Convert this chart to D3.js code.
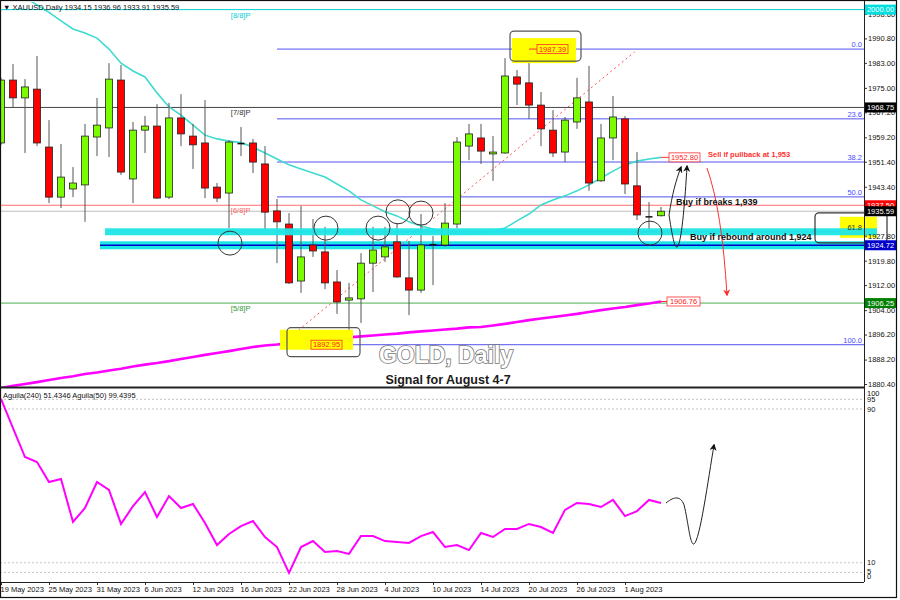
<!DOCTYPE html>
<html><head><meta charset="utf-8">
<script src="https://d3js.org/d3.v7.min.js"></script>
<style>
html,body{margin:0;padding:0;background:#fff;}
svg{display:block;}
text{font-family:"Liberation Sans",Arial,sans-serif;}
</style></head>
<body><svg id="chart" width="900" height="600"></svg>
<script>
// ---------------- DATA ----------------
const symbol = "XAUUSD,Daily";
const open  = [1957.4,1977.5,1971.8,1974.6,1956.1,1940.1,1942.7,1944.0,1959.3,1962.2,1977.5,1945.9,1961.5,1962.8,1940.1,1965.4,1959.6,1957.4,1943.3,1941.4,1957.4,1957.4,1950.7,1935.7,1931.5,1913.3,1924.8,1922.6,1913.0,1907.2,1907.6,1919.0,1921.0,1925.8,1914.3,1910.4,1924.8,1924.8,1931.5,1956.4,1959.0,1953.9,1954.2,1978.5,1976.6,1969.5,1961.5,1954.5,1964.1,1970.5,1945.3,1959.0,1965.1,1943.7,1934.0,1934.15];
const high  = [1978.2,1982.6,1977.8,1985.2,1964.7,1957.1,1949.7,1963.5,1971.8,1982.9,1982.3,1964.1,1966.0,1969.8,1970.2,1973.0,1963.5,1971.1,1944.6,1958.3,1962.5,1958.7,1956.4,1939.5,1935.0,1937.3,1933.1,1930.6,1916.8,1912.7,1922.2,1930.6,1930.6,1931.8,1926.1,1934.7,1927.7,1938.2,1959.3,1963.5,1963.5,1959.6,1984.5,1980.7,1987.39,1973.7,1967.9,1965.7,1978.2,1982.0,1963.5,1972.4,1966.0,1954.5,1938.5,1936.96];
const low   = [1956.8,1968.9,1954.2,1956.4,1938.2,1936.6,1940.1,1932.2,1953.2,1952.9,1947.2,1938.2,1954.2,1939.5,1939.5,1956.4,1949.1,1939.8,1938.5,1930.2,1953.2,1947.8,1929.6,1919.0,1912.4,1909.5,1921.0,1910.7,1902.8,1892.95,1899.9,1909.8,1919.4,1914.3,1902.4,1909.5,1912.0,1924.2,1930.2,1951.9,1950.7,1945.3,1954.0,1969.5,1965.1,1956.4,1952.9,1951.3,1961.9,1942.1,1945.0,1951.9,1941.1,1932.8,1929.0,1933.91];
const close = [1977.5,1971.8,1975.3,1957.4,1940.1,1946.5,1944.6,1959.6,1963.1,1977.8,1948.1,1961.5,1962.8,1939.8,1965.4,1960.3,1956.8,1943.0,1939.8,1957.7,1957.2,1951.3,1935.3,1932.2,1912.7,1921.0,1922.9,1912.7,1906.6,1907.9,1919.0,1923.2,1924.2,1914.6,1910.4,1924.8,1924.9,1931.8,1957.7,1960.3,1954.8,1954.5,1978.8,1976.2,1969.5,1961.9,1954.2,1964.7,1971.8,1944.6,1959.0,1965.7,1944.3,1934.4,1933.8,1935.59];
const ma21  = [2010.0,2006.5,2003.8,2001.5,1999.1,1996.4,1993.8,1992.5,1990.9,1987.4,1982.9,1980.4,1978.5,1973.4,1968.9,1966.3,1963.1,1959.9,1958.7,1958.0,1957.5,1956.1,1954.2,1952.3,1950.4,1949.1,1947.8,1946.5,1944.3,1942.1,1939.2,1937.3,1935.4,1934.1,1932.2,1930.9,1929.9,1928.6,1928.3,1928.3,1928.6,1929.3,1930.2,1932.5,1934.7,1937.6,1939.2,1940.5,1942.1,1944.0,1946.2,1948.4,1950.4,1951.6,1952.3,1952.8];
const ma200 = [1879.1,1879.8,1880.4,1881.0,1881.7,1882.3,1882.9,1883.6,1884.1,1884.7,1885.3,1886.0,1886.6,1887.1,1887.7,1888.4,1889.0,1889.7,1890.3,1890.9,1891.6,1892.2,1892.7,1893.0,1893.5,1893.8,1894.1,1894.5,1894.8,1895.3,1895.6,1895.9,1896.2,1896.5,1896.9,1897.2,1897.5,1897.8,1898.1,1898.5,1898.6,1899.1,1899.6,1900.2,1900.8,1901.3,1901.8,1902.3,1902.8,1903.4,1904.0,1904.5,1905.0,1905.6,1906.1,1906.76];
const aguila = [95.2,80.1,65.0,62.4,52.0,53.6,31.2,38.5,52.0,47.9,30.2,39.5,46.8,33.8,44.7,38.5,40.6,30.7,19.2,25.0,29.1,31.7,23.4,18.2,4.7,18.2,21.3,15.6,16.1,14.6,23.9,23.9,21.3,20.8,20.3,23.9,26.0,18.2,19.2,16.6,25.5,23.4,27.6,27.6,30.2,28.6,25.5,37.5,41.1,40.6,39.0,42.7,34.3,36.9,42.7,41.1];
const aguilaLegend = "Aguila(240) 51.4346  Aguila(50) 99.4395";

const tickIdx    = [0,4,8,12,16,20,24,28,32,36,40,44,48,52];
const tickLabels = ["19 May 2023","25 May 2023","31 May 2023","6 Jun 2023","12 Jun 2023","16 Jun 2023","22 Jun 2023","28 Jun 2023","4 Jul 2023","10 Jul 2023","14 Jul 2023","20 Jul 2023","26 Jul 2023","1 Aug 2023"];
const priceTicks = [1998.60,1990.80,1983.00,1975.00,1967.20,1959.20,1951.40,1943.40,1935.60,1927.80,1919.80,1912.00,1904.00,1896.20,1888.20,1880.40];
const subTicks   = [100,95,90,10,5,0];
const subLevels  = [95,90,10,5];

const fibHigh = 1987.39, fibLow = 1892.95, fibStartIdx = 23;
const fibLevels = [0,23.6,38.2,50,61.8,100];
const murreyLabels = ["[8/8]P","[7/8]P","[6/8]P","[5/8]P"];
const murreyPrices = [2000.00,1968.75,1937.50,1906.25];
const murreyColors = ["#00d0d0","#333333","#ff6666","#339933"];
const currentPrice = 1935.59;
const supportPrice = 1924.72;
const axisTagPrices = [2000.00,1968.75,1937.50,1935.59,1924.72,1906.25];
const axisTagColors = ["#00e0e0","#000000","#ff0000","#000000","#0000cc","#008000"];

const circleIdx   = [19.08,27.08,31.42,33.08,35.0,54.08];
const circlePrice = [1925.4,1930.2,1930.2,1935.4,1935.0,1928.6];
const trendFrom = [23.5,1893.5], trendTo = [52.8,1986.5];

const redArrow  = [[58.83,1949.4],[60.08,1936.0],[60.5,1908.8]];
const blackA    = [[55.67,1934.4],[55.92,1940.8],[56.25,1945.6],[56.67,1949.7]];
const blackB    = [[55.67,1934.4],[55.92,1928.0],[56.17,1922.6],[56.42,1924.5],[56.75,1927.0],[57.0,1939.2],[57.17,1950.0]];
const subArrow  = [[55.42,41.1],[55.92,43.7],[56.58,45.8],[56.92,40.1],[57.25,32.2],[57.42,18.7],[57.75,19.8],[58.25,21.8],[58.92,53.1],[59.42,71.3]];

const notes = [
  {t:"Sell if pullback at 1,953", i:58.92, p:1953, dy:0.5, c:"#ff3030", s:7.5},
  {t:"Buy if breaks 1,939", i:56.25, p:1939, dy:4.5, c:"#111", s:9},
  {t:"Buy if rebound around 1,924", i:57.42, p:1924, dy:-7.7, c:"#111", s:9}
];
const titleMain = "GOLD, Daily";
const titleSub  = "Signal for August 4-7";

// ---------------- LAYOUT ----------------
const W=900,H=600, plotR=864, mainTop=2, mainBot=387, subTop=389, subBot=582;
const x  = d3.scaleLinear().domain([0,55]).range([1,661]);
const y  = d3.scaleLinear().domain([1880.4,1998.6]).range([384,14]);
const yi = d3.scaleLinear().domain([0,100]).range([582,389.75]);

const svg = d3.select("#chart");
svg.append("rect").attr("width",W).attr("height",H).attr("fill","#fff");
const defs = svg.append("defs");
defs.append("clipPath").attr("id","cm").append("rect").attr("x",0).attr("y",mainTop).attr("width",plotR).attr("height",mainBot-mainTop);
defs.append("clipPath").attr("id","cs").append("rect").attr("x",0).attr("y",subTop).attr("width",plotR).attr("height",subBot-subTop);
function marker(id,color){
  defs.append("marker").attr("id",id).attr("viewBox","0 0 10 10").attr("refX",8).attr("refY",5)
    .attr("markerWidth",7).attr("markerHeight",7).attr("orient","auto-start-reverse")
    .append("path").attr("d","M0,0 L10,5 L0,10 L3,5 Z").attr("fill",color);
}
marker("ahk","#111"); marker("ahr","#ff3030");

const pt = (d)=>x(d[0])+","+y(d[1]);
const pti = (d)=>x(d[0])+","+yi(d[1]);
function cubicPath(arr,f){ let s="M"+f(arr[0]); for(let k=1;k<arr.length;k+=3) s+=" C"+f(arr[k])+" "+f(arr[k+1])+" "+f(arr[k+2]); return s; }

const gm = svg.append("g").attr("clip-path","url(#cm)");

// yellow highlight boxes (behind)
const ax = x(44), ay = y(fibHigh), bx = x(29), by = y(fibLow);
const fib618 = fibHigh-(fibHigh-fibLow)*0.618;
svg.append("rect").attr("x",ax-17).attr("y",ay-11).attr("width",64).attr("height",25).attr("fill","#ffff00");
svg.append("rect").attr("x",bx-69).attr("y",by-15).attr("width",73).attr("height",20).attr("fill","#ffff00");
svg.append("rect").attr("x",plotR-24).attr("y",y(fib618)-15).attr("width",37).attr("height",21).attr("fill","#ffff00");

// horizontal levels
const hl = [[murreyPrices[0],murreyColors[0]],[murreyPrices[1],"#444"],[murreyPrices[2],"#ff7070"],[currentPrice,"#bdbdbd"],[murreyPrices[3],"#4caf50"]];
hl.forEach(d=>gm.append("line").attr("x1",0).attr("x2",plotR).attr("y1",y(d[0])).attr("y2",y(d[0])).attr("stroke",d[1]).attr("stroke-width",1));

// cyan bands
svg.append("rect").attr("x",x(8.67)).attr("y",y(fib618)-3.5).attr("width",877-x(8.67)).attr("height",7).attr("fill","#1de6e6").attr("opacity",0.95);
gm.append("rect").attr("x",x(8.25)).attr("y",y(supportPrice)-4).attr("width",plotR-x(8.25)).attr("height",8).attr("fill","#1de6e6");
gm.append("line").attr("x1",x(8.25)).attr("x2",plotR).attr("y1",y(supportPrice)).attr("y2",y(supportPrice)).attr("stroke","#0000cc").attr("stroke-width",1.5);

// fib lines
fibLevels.forEach(l=>{
  const p = fibHigh-(fibHigh-fibLow)*l/100;
  gm.append("line").attr("x1",x(fibStartIdx)).attr("x2",plotR).attr("y1",y(p)).attr("y2",y(p)).attr("stroke","#5252ee").attr("stroke-width",1);
  svg.append("text").attr("x",plotR-2).attr("y",y(p)-2).attr("text-anchor","end").attr("font-size",7.5).attr("fill",l===61.8?"#333":"#4b4bff").text(l.toFixed(1));
});

// trendline
gm.append("line").attr("x1",x(trendFrom[0])).attr("y1",y(trendFrom[1])).attr("x2",x(trendTo[0])).attr("y2",y(trendTo[1]))
  .attr("stroke","#ff5050").attr("stroke-width",1).attr("stroke-dasharray","2,3");

// moving averages
gm.append("path").datum(ma21).attr("d",d3.line().x((d,i)=>x(i)).y(d=>y(d))).attr("fill","none").attr("stroke","#3ddbd0").attr("stroke-width",1.6);
gm.append("path").datum(ma200).attr("d",d3.line().x((d,i)=>x(i)).y(d=>y(d))).attr("fill","none").attr("stroke","#ff00ff").attr("stroke-width",2.6);

// candles
const cd = open.map((o,i)=>({i,o,h:high[i],l:low[i],c:close[i]}));
const gc = gm.append("g");
gc.selectAll("line.w").data(cd).join("line").attr("class","w")
  .attr("x1",d=>x(d.i)).attr("x2",d=>x(d.i)).attr("y1",d=>y(d.h)).attr("y2",d=>y(d.l)).attr("stroke","#555").attr("stroke-width",1);
gc.selectAll("rect.b").data(cd.filter(d=>Math.abs(d.c-d.o)>=0.3)).join("rect").attr("class","b")
  .attr("x",d=>x(d.i)-3.5).attr("width",7)
  .attr("y",d=>y(Math.max(d.o,d.c))).attr("height",d=>Math.max(1,y(Math.min(d.o,d.c))-y(Math.max(d.o,d.c))))
  .attr("fill",d=>d.c>d.o?"#7cfc00":"#ff0000").attr("stroke","#222").attr("stroke-width",0.8);
gc.selectAll("line.dj").data(cd.filter(d=>Math.abs(d.c-d.o)<0.3)).join("line").attr("class","dj")
  .attr("x1",d=>x(d.i)-3.5).attr("x2",d=>x(d.i)+3.5).attr("y1",d=>y(d.c)).attr("y2",d=>y(d.c)).attr("stroke","#111").attr("stroke-width",1.5);

// murrey labels
murreyLabels.forEach((t,k)=>svg.append("text").attr("x",x(19.15)).attr("y",y(murreyPrices[k])+8).attr("font-size",7.5).attr("fill",murreyColors[k]).text(t));

// circles
circleIdx.forEach((ci,k)=>svg.append("circle").attr("cx",x(ci)).attr("cy",y(circlePrice[k])).attr("r",12).attr("fill","none").attr("stroke","#333").attr("stroke-width",1));

// rounded frames around highlights
svg.append("rect").attr("x",ax-19).attr("y",ay-18).attr("width",71).attr("height",30).attr("rx",4).attr("fill","none").attr("stroke","#555").attr("stroke-width",1.2);
svg.append("rect").attr("x",bx-62).attr("y",by-17).attr("width",73).attr("height",29).attr("rx",4).attr("fill","none").attr("stroke","#555").attr("stroke-width",1.2);
svg.append("rect").attr("x",plotR-49).attr("y",y(fib618)-19).attr("width",72).attr("height",30).attr("rx",4).attr("fill","none").attr("stroke","#333").attr("stroke-width",1.2);

// in-chart price tags
function tag(xl,yc,w,txt,bg){
  svg.append("rect").attr("x",xl).attr("y",yc-4.5).attr("width",w).attr("height",9).attr("fill",bg).attr("stroke","#ff3030").attr("stroke-width",0.8);
  svg.append("text").attr("x",xl+w/2).attr("y",yc+2.6).attr("text-anchor","middle").attr("font-size",7.5).attr("fill","#ff2020").text(txt);
}
svg.append("line").attr("x1",ax).attr("x2",ax+8).attr("y1",ay).attr("y2",ay).attr("stroke","#ff3030");
tag(ax+8,ay,31,fibHigh.toFixed(2),"none");
tag(bx-38,by,31,fibLow.toFixed(2),"none");
svg.append("line").attr("x1",x(55)).attr("x2",x(55)+8).attr("y1",y(ma21[55])).attr("y2",y(ma21[55])).attr("stroke","#ff3030");
tag(x(55)+8,y(ma21[55]),31,ma21[55].toFixed(2),"#fff");
svg.append("line").attr("x1",x(55)).attr("x2",x(55)+6).attr("y1",y(ma200[55])).attr("y2",y(ma200[55])).attr("stroke","#ff3030");
tag(x(55)+6,y(ma200[55]),33,ma200[55].toFixed(2),"#fff");

// arrows
svg.append("path").attr("d","M"+pt(redArrow[0])+" Q"+pt(redArrow[1])+" "+pt(redArrow[2])).attr("fill","none").attr("stroke","#ff3030").attr("stroke-width",1).attr("marker-end","url(#ahr)");
svg.append("path").attr("d",cubicPath(blackA,pt)).attr("fill","none").attr("stroke","#222").attr("stroke-width",1).attr("marker-end","url(#ahk)");
svg.append("path").attr("d",cubicPath(blackB,pt)).attr("fill","none").attr("stroke","#222").attr("stroke-width",1).attr("marker-end","url(#ahk)");

// notes
notes.forEach(n=>svg.append("text").attr("x",x(n.i)).attr("y",y(n.p)+n.dy).attr("font-size",n.s).attr("font-weight","bold").attr("fill",n.c).text(n.t));

// titles
svg.append("text").attr("x",446).attr("y",363).attr("text-anchor","middle").attr("font-size",23).attr("font-weight","bold")
  .attr("fill","#fff").attr("stroke","#777").attr("stroke-width",1.6).attr("paint-order","stroke").text(titleMain);
svg.append("text").attr("x",448).attr("y",384).attr("text-anchor","middle").attr("font-size",12.5).attr("font-weight","bold")
  .attr("fill","#1a1a1a").attr("stroke","#fff").attr("stroke-width",1).attr("paint-order","stroke").text(titleSub);

// header
svg.append("text").attr("x",3).attr("y",10).attr("font-size",7.5).attr("fill","#111")
  .text("\u25BC "+symbol+"  "+[open[55],high[55],low[55],close[55]].map(v=>v.toFixed(2)).join(" "));

// ---------------- SUB PANEL ----------------
const gs = svg.append("g").attr("clip-path","url(#cs)");
subLevels.forEach(v=>gs.append("line").attr("x1",0).attr("x2",plotR).attr("y1",yi(v)).attr("y2",yi(v)).attr("stroke","#c4c4c4").attr("stroke-dasharray","2,2"));
gs.append("path").datum(aguila).attr("d",d3.line().x((d,i)=>x(i)).y(d=>yi(d))).attr("fill","none").attr("stroke","#ff00ff").attr("stroke-width",2);
svg.append("path").attr("d",cubicPath(subArrow,pti)).attr("fill","none").attr("stroke","#222").attr("stroke-width",1).attr("marker-end","url(#ahk)");
svg.append("text").attr("x",3).attr("y",398).attr("font-size",7.5).attr("fill","#111").text(aguilaLegend);
const subOff = [3.5,0,0,0,-1,-6];
subTicks.forEach((v,k)=>svg.append("text").attr("x",867).attr("y",yi(v)+subOff[k]).attr("dy","0.35em").attr("font-size",7.5).attr("fill","#111").text(v));

// ---------------- AXES & FRAME ----------------
const ra = svg.append("g").attr("transform",`translate(${plotR},0)`)
  .call(d3.axisRight(y).tickValues(priceTicks).tickSize(3).tickPadding(1).tickFormat(d3.format(".2f")));
ra.select(".domain").remove();
ra.selectAll("text").attr("font-size",7.5).attr("fill","#111").attr("font-family","Liberation Sans, Arial, sans-serif");
ra.selectAll("line").attr("stroke","#333");

const ba = svg.append("g").attr("transform",`translate(0,${subBot})`)
  .call(d3.axisBottom(x).tickValues(tickIdx).tickSize(3).tickFormat((d,i)=>tickLabels[i]));
ba.select(".domain").remove();
ba.selectAll("text").attr("font-size",7.5).attr("fill","#111").attr("text-anchor","start").attr("x",-1).attr("y",5).attr("font-family","Liberation Sans, Arial, sans-serif");
ba.selectAll("line").attr("stroke","#333");

// axis price tags
axisTagPrices.forEach((p,k)=>{
  svg.append("rect").attr("x",plotR+1).attr("y",y(p)-5).attr("width",31).attr("height",10).attr("fill",axisTagColors[k]);
  svg.append("text").attr("x",plotR+16.5).attr("y",y(p)+2.7).attr("text-anchor","middle").attr("font-size",7.5).attr("fill","#fff").text(p.toFixed(2));
});

// frame lines
svg.append("line").attr("x1",plotR+0.5).attr("x2",plotR+0.5).attr("y1",1).attr("y2",subBot).attr("stroke","#222");
svg.append("line").attr("x1",0).attr("x2",plotR).attr("y1",mainBot+0.5).attr("y2",mainBot+0.5).attr("stroke","#222").attr("stroke-width",2);
svg.append("line").attr("x1",0).attr("x2",plotR).attr("y1",subBot+0.5).attr("y2",subBot+0.5).attr("stroke","#222");
svg.append("rect").attr("x",0.5).attr("y",0.5).attr("width",896).attr("height",597).attr("fill","none").attr("stroke","#111").attr("stroke-width",1.2);
</script></body></html>
